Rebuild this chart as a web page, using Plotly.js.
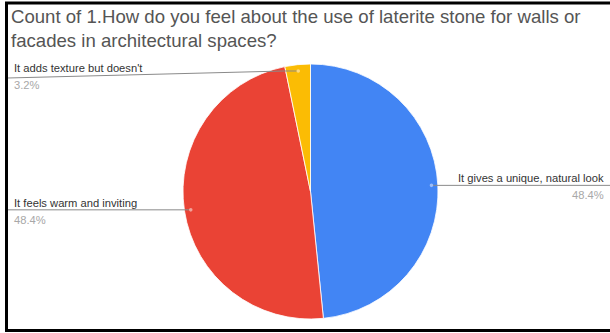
<!DOCTYPE html>
<html>
<head>
<meta charset="utf-8">
<script src="https://cdn.plot.ly/plotly-3.0.1.min.js"></script>
<style>
  html, body { margin: 0; padding: 0; background: #fff; }
  #chart { width: 610px; height: 333px; }
</style>
</head>
<body>
<div id="chart"></div>
<script>
// Survey responses
const categories = [
  "It gives a unique, natural look",
  "It feels warm and inviting",
  "It adds texture but doesn't"
];
const counts = [15, 15, 1];
const sliceColors = ["#4285F4", "#EA4335", "#FBBC04"];
const dotColors = ["#9dbdf7", "#f2a199", "#fcd97f"];
const titleText = "Count of 1.How do you feel about the use of laterite stone for walls or<br>facades in architectural spaces?";

const W = 610, H = 333;
// Pie placement (pixels)
const cx = 310.5, cy = 191.5, R = 127.5;
const domainX = [(cx - R) / W, (cx + R) / W];
const domainY = [1 - (cy + R) / H, 1 - (cy - R) / H];

const total = counts.reduce((a, b) => a + b, 0);
const pct = counts.map(c => (100 * c / total).toFixed(1) + "%");

// mid-angle of each slice (degrees clockwise from 12 o'clock)
let acc = 0;
const mids = counts.map(c => {
  const a = 360 * c / total;
  const m = acc + a / 2;
  acc += a;
  return m;
});
const anchor = mids.map(m => {
  const rad = m * Math.PI / 180;
  const px = cx + 0.95 * R * Math.sin(rad);
  const py = cy - 0.95 * R * Math.cos(rad);
  return [px, py];
});
const toPX = x => x / W;
const toPY = y => 1 - y / H;

// label text positions (pixels): [x, anchor side]
const labelPos = [
  [606, "right"],
  [12, "left"],
  [12, "left"]
];

const shapes = [];
const annotations = [];

// leader lines
shapes.push({type: "line", xref: "paper", yref: "paper",
  x0: toPX(anchor[0][0]), y0: toPY(anchor[0][1]), x1: toPX(W), y1: toPY(anchor[0][1]),
  line: {color: "#8a8a8a", width: 1}});
shapes.push({type: "line", xref: "paper", yref: "paper",
  x0: toPX(8), y0: toPY(anchor[1][1]), x1: toPX(anchor[1][0]), y1: toPY(anchor[1][1]),
  line: {color: "#8a8a8a", width: 1}});
shapes.push({type: "path", xref: "paper", yref: "paper",
  path: "M " + toPX(8) + " " + toPY(anchor[2][1] + 7) + " L " + toPX(anchor[2][0] - 14) + " " + toPY(anchor[2][1]) +
        " L " + toPX(anchor[2][0]) + " " + toPY(anchor[2][1]),
  line: {color: "#8a8a8a", width: 1}});

// small dots at the slice ends
anchor.forEach((p, i) => {
  shapes.push({type: "circle", xref: "paper", yref: "paper",
    x0: toPX(p[0] - 1.8), x1: toPX(p[0] + 1.8), y0: toPY(p[1] + 1.8), y1: toPY(p[1] - 1.8),
    fillcolor: dotColors[i], line: {width: 0}});
});

const labelFont = {family: "Liberation Sans, Arial, sans-serif", size: 11.2, color: "#333"};
const pctFont = {family: "Liberation Sans, Arial, sans-serif", size: 11.2, color: "#a8a8a8"};

// category labels above the line, percentages below
const labelY = [anchor[0][1], anchor[1][1], anchor[2][1] + 4];
categories.forEach((name, i) => {
  const lp = labelPos[i];
  annotations.push({xref: "paper", yref: "paper", x: toPX(lp[0]), y: toPY(labelY[i] - 7),
    text: name, showarrow: false, xanchor: lp[1], yanchor: "middle", font: labelFont});
  annotations.push({xref: "paper", yref: "paper", x: toPX(lp[0]), y: toPY(labelY[i] + 10),
    text: pct[i], showarrow: false, xanchor: lp[1], yanchor: "middle", font: pctFont});
});

// chart title
annotations.push({xref: "paper", yref: "paper", x: toPX(9), y: toPY(4),
  xanchor: "left", yanchor: "top", align: "left", showarrow: false,
  text: titleText,
  font: {family: "Liberation Sans, Arial, sans-serif", size: 18.6, color: "#555"}});

// frame lines
shapes.push({type: "line", xref: "paper", yref: "paper", x0: toPX(6.5), x1: toPX(6.5), y0: toPY(2), y1: toPY(331.5),
  line: {color: "#000", width: 3}});
shapes.push({type: "line", xref: "paper", yref: "paper", x0: toPX(5), x1: 1, y0: toPY(3), y1: toPY(3),
  line: {color: "#000", width: 3}});
shapes.push({type: "line", xref: "paper", yref: "paper", x0: toPX(5), x1: 1, y0: toPY(330.5), y1: toPY(330.5),
  line: {color: "#000", width: 3}});

const trace = {
  type: "pie",
  labels: categories,
  values: counts,
  sort: false,
  direction: "clockwise",
  rotation: 0,
  textinfo: "none",
  hoverinfo: "label+percent",
  marker: {colors: sliceColors, line: {color: "#fff", width: 0.8}},
  domain: {x: domainX, y: domainY},
  showlegend: false
};

const layout = {
  width: W, height: H,
  margin: {l: 0, r: 0, t: 0, b: 0},
  paper_bgcolor: "#fff",
  shapes: shapes,
  annotations: annotations
};

Plotly.newPlot("chart", [trace], layout, {displayModeBar: false, staticPlot: true});
</script>
</body>
</html>
